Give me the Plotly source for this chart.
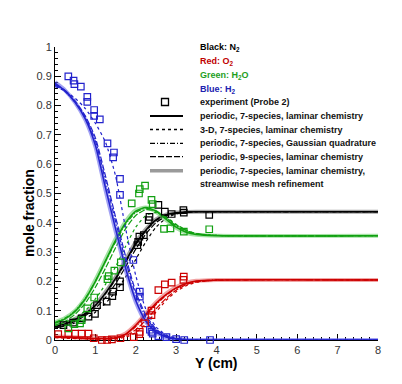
import plotly.graph_objects as go

# ---------------- data ----------------
Y_CM = [0, 0.25, 0.5, 0.75, 1.0, 1.25, 1.5, 1.75, 2.0, 2.25, 2.5, 2.75, 3.0, 3.25, 3.5, 4.0, 8.0]

# H2 (blue)
h2_periodic7 = [0.877, 0.850, 0.810, 0.755, 0.665, 0.520, 0.380, 0.245, 0.135, 0.065, 0.028, 0.010, 0.003, 0.001, 0, 0, 0]
h2_3d        = [0.865, 0.850, 0.825, 0.790, 0.740, 0.675, 0.560, 0.380, 0.220, 0.105, 0.045, 0.018, 0.006, 0.002, 0.001, 0, 0]
h2_gauss     = [0.870, 0.848, 0.812, 0.760, 0.680, 0.545, 0.405, 0.270, 0.155, 0.078, 0.034, 0.013, 0.004, 0.001, 0, 0, 0]
h2_9species  = [0.872, 0.852, 0.815, 0.765, 0.690, 0.560, 0.420, 0.285, 0.165, 0.085, 0.038, 0.015, 0.005, 0.002, 0, 0, 0]
h2_mesh      = [0.880, 0.852, 0.810, 0.752, 0.660, 0.512, 0.372, 0.238, 0.130, 0.062, 0.026, 0.009, 0.003, 0.001, 0, 0, 0]

# H2O (green)
h2o_periodic7 = [0.057, 0.072, 0.098, 0.140, 0.200, 0.270, 0.340, 0.400, 0.440, 0.452, 0.440, 0.412, 0.385, 0.368, 0.360, 0.356, 0.356]
h2o_3d        = [0.050, 0.060, 0.075, 0.100, 0.140, 0.190, 0.250, 0.320, 0.385, 0.425, 0.435, 0.420, 0.395, 0.375, 0.363, 0.357, 0.356]
h2o_gauss     = [0.060, 0.075, 0.100, 0.142, 0.200, 0.268, 0.335, 0.395, 0.435, 0.450, 0.440, 0.415, 0.390, 0.372, 0.362, 0.357, 0.356]
h2o_9species  = [0.050, 0.064, 0.088, 0.125, 0.180, 0.245, 0.315, 0.380, 0.425, 0.445, 0.440, 0.418, 0.393, 0.374, 0.363, 0.357, 0.356]
h2o_mesh      = [0.060, 0.075, 0.100, 0.143, 0.205, 0.275, 0.345, 0.405, 0.443, 0.452, 0.438, 0.410, 0.383, 0.366, 0.359, 0.356, 0.356]

# N2 (black)
n2_periodic7 = [0.045, 0.055, 0.070, 0.090, 0.118, 0.160, 0.210, 0.270, 0.330, 0.375, 0.410, 0.427, 0.434, 0.437, 0.438, 0.438, 0.438]
n2_3d        = [0.040, 0.048, 0.058, 0.073, 0.095, 0.125, 0.165, 0.215, 0.275, 0.335, 0.385, 0.415, 0.430, 0.436, 0.438, 0.438, 0.438]
n2_gauss     = [0.045, 0.055, 0.070, 0.090, 0.118, 0.158, 0.207, 0.265, 0.325, 0.372, 0.408, 0.426, 0.433, 0.437, 0.438, 0.438, 0.438]
n2_9species  = [0.040, 0.050, 0.064, 0.083, 0.108, 0.145, 0.192, 0.250, 0.310, 0.362, 0.400, 0.422, 0.432, 0.436, 0.438, 0.438, 0.438]
n2_mesh      = [0.047, 0.057, 0.072, 0.092, 0.121, 0.163, 0.214, 0.274, 0.334, 0.378, 0.412, 0.428, 0.435, 0.437, 0.438, 0.438, 0.438]

# O2 (red)
o2_periodic7 = [0.012, 0.010, 0.008, 0.006, 0.005, 0.005, 0.008, 0.020, 0.050, 0.088, 0.125, 0.155, 0.178, 0.193, 0.201, 0.205, 0.205]
o2_3d        = [0.008, 0.006, 0.005, 0.004, 0.003, 0.003, 0.004, 0.010, 0.025, 0.055, 0.095, 0.135, 0.165, 0.185, 0.197, 0.204, 0.205]
o2_gauss     = [0.012, 0.010, 0.008, 0.006, 0.005, 0.005, 0.008, 0.019, 0.046, 0.083, 0.120, 0.152, 0.176, 0.192, 0.200, 0.205, 0.205]
o2_9species  = [0.010, 0.008, 0.006, 0.005, 0.004, 0.004, 0.006, 0.014, 0.035, 0.068, 0.106, 0.142, 0.170, 0.189, 0.198, 0.204, 0.205]
o2_mesh      = [0.013, 0.011, 0.009, 0.007, 0.006, 0.006, 0.009, 0.022, 0.052, 0.091, 0.128, 0.158, 0.181, 0.195, 0.202, 0.205, 0.205]

# experiment (Probe 2)
exp_h2_x = [0.33, 0.46, 0.48, 0.64, 0.80, 0.80, 0.97, 0.97, 1.11, 1.30, 1.46, 1.44, 1.61, 1.61, 1.94, 2.10, 2.10, 2.35, 2.39, 2.42, 2.56, 2.76, 3.00, 3.20, 3.84]
exp_h2_y = [0.900, 0.885, 0.873, 0.865, 0.830, 0.813, 0.785, 0.765, 0.753, 0.671, 0.640, 0.623, 0.550, 0.495, 0.273, 0.165, 0.148, 0.035, 0.028, 0.022, 0.013, 0.010, 0.003, 0.000, 0.000]

exp_h2o_x = [0.33, 0.48, 0.62, 0.66, 0.80, 0.97, 1.30, 1.33, 1.47, 1.63, 1.90, 2.08, 2.10, 2.23, 2.39, 2.42, 2.70, 2.86, 3.19, 3.82]
exp_h2o_y = [0.040, 0.054, 0.057, 0.068, 0.108, 0.145, 0.208, 0.218, 0.237, 0.265, 0.466, 0.500, 0.515, 0.527, 0.478, 0.464, 0.379, 0.381, 0.370, 0.378]

exp_n2_x = [0.21, 0.45, 0.66, 0.83, 0.99, 1.04, 1.28, 1.42, 1.44, 1.61, 1.61, 2.04, 2.06, 2.09, 2.20, 2.32, 2.34, 2.56, 2.72, 2.89, 3.18, 3.19, 3.82]
exp_n2_y = [0.051, 0.059, 0.074, 0.080, 0.089, 0.119, 0.131, 0.150, 0.165, 0.180, 0.200, 0.324, 0.335, 0.353, 0.358, 0.409, 0.420, 0.461, 0.438, 0.430, 0.443, 0.435, 0.427]

exp_o2_x = [0.08, 0.33, 0.50, 0.66, 0.83, 0.96, 1.16, 1.29, 1.41, 1.62, 1.95, 2.09, 2.10, 2.23, 2.39, 2.39, 2.56, 2.72, 2.89, 3.18, 3.19]
exp_o2_y = [0.020, 0.022, 0.022, 0.022, 0.022, 0.006, 0.000, 0.000, 0.002, 0.006, 0.010, 0.020, 0.028, 0.057, 0.085, 0.100, 0.170, 0.190, 0.196, 0.205, 0.216]

X_TICKS = [0, 1, 2, 3, 4, 5, 6, 7, 8]
Y_TICKS = [0, 0.1, 0.2, 0.3, 0.4, 0.5, 0.6, 0.7, 0.8, 0.9, 1]
Y_TICK_LABELS = ["0", "0.1", "0.2", "0.3", "0.4", "0.5", "0.6", "0.7", "0.8", "0.9", "1"]

SPECIES_LABELS = [("Black: N<sub>2</sub>", "#000000"), ("Red: O<sub>2</sub>", "#c00000"),
                  ("Green: H<sub>2</sub>O", "#1e9e1e"), ("Blue: H<sub>2</sub>", "#2020b0")]
CASE_LABELS = ["experiment (Probe 2)",
               "periodic, 7-species, laminar chemistry",
               "3-D, 7-species, laminar chemistry",
               "periodic, 7-species, Gaussian quadrature",
               "periodic, 9-species, laminar chemistry",
               "periodic, 7-species, laminar chemistry,",
               "streamwise mesh refinement"]

# ---------------- styles ----------------
species = [
    ("N2", "#000000", "rgba(90,90,90,0.55)", [n2_periodic7, n2_3d, n2_gauss, n2_9species, n2_mesh], exp_n2_x, exp_n2_y),
    ("O2", "#cc0000", "rgba(230,90,90,0.55)", [o2_periodic7, o2_3d, o2_gauss, o2_9species, o2_mesh], exp_o2_x, exp_o2_y),
    ("H2O", "#11a011", "rgba(90,200,90,0.55)", [h2o_periodic7, h2o_3d, h2o_gauss, h2o_9species, h2o_mesh], exp_h2o_x, exp_h2o_y),
    ("H2", "#2222cc", "rgba(100,100,235,0.6)", [h2_periodic7, h2_3d, h2_gauss, h2_9species, h2_mesh], exp_h2_x, exp_h2_y),
]
DASHES = ["solid", "3px,3px", "5px,2px,1px,2px", "6px,2px", "solid"]

fig = go.Figure()
FONT = "Liberation Sans, Arial, sans-serif"

for name, col, light, series, ex, ey in species:
    fig.add_trace(go.Scatter(x=Y_CM, y=series[4], mode="lines",
                             line=dict(color=light, width=4, shape="spline", smoothing=0.6),
                             showlegend=False, hoverinfo="skip"))
    for k in range(4):
        fig.add_trace(go.Scatter(x=Y_CM, y=series[k], mode="lines",
                                 line=dict(color=col, width=1.2 if k else 1.5, dash=DASHES[k],
                                           shape="spline", smoothing=0.6),
                                 showlegend=False, hoverinfo="skip"))

for name, col, light, series, ex, ey in species:
    fig.add_trace(go.Scatter(x=ex, y=ey, mode="markers", cliponaxis=False,
                             marker=dict(symbol="square-open", size=6.5, color=col,
                                         line=dict(width=1.2, color=col)),
                             showlegend=False, hoverinfo="skip"))

# ---------------- layout ----------------
L, R, T, B = 55, 24, 47, 44
W, H = 402, 384
pw, ph = W - L - R, H - T - B


def px(xp):
    return (xp - L) / pw


def py(yp):
    return (H - B - yp) / ph


annotations = []
shapes = []
text_x = px(198)
rows_species = [47, 61, 75, 89]
for (txt, c), yy in zip(SPECIES_LABELS, rows_species):
    annotations.append(dict(x=text_x, y=py(yy), xref="paper", yref="paper", text="<b>%s</b>" % txt,
                            showarrow=False, xanchor="left", yanchor="middle",
                            font=dict(family=FONT, size=9, color=c)))
rows_case = [102, 116, 129.5, 143.3, 156.7, 170.7, 184.3]
for txt, yy in zip(CASE_LABELS, rows_case):
    annotations.append(dict(x=text_x, y=py(yy), xref="paper", yref="paper", text="<b>%s</b>" % txt,
                            showarrow=False, xanchor="left", yanchor="middle",
                            font=dict(family=FONT, size=9, color="#111111")))

# legend symbols
shapes.append(dict(type="rect", xref="paper", yref="paper",
                   x0=px(161.5), x1=px(168.5), y0=py(105.5), y1=py(98.5),
                   line=dict(color="#000000", width=1.3), fillcolor="rgba(0,0,0,0)"))
sample_styles = [("#000000", 2, "solid"), ("#000000", 1.3, "3px,3px"), ("#000000", 1.3, "5px,2px,1px,2px"),
                 ("#000000", 1.3, "6px,2px"), ("#9a9a9a", 3.5, "solid")]
for (c, w, d), yy in zip(sample_styles, rows_case[1:6]):
    shapes.append(dict(type="line", xref="paper", yref="paper", x0=px(150), x1=px(183),
                       y0=py(yy), y1=py(yy), line=dict(color=c, width=w, dash=d)))

# axis titles
annotations.append(dict(x=0.5, y=py(363), xref="paper", yref="paper", text="<b>Y (cm)</b>",
                        showarrow=False, xanchor="center", yanchor="middle",
                        font=dict(family=FONT, size=14, color="#000000")))
annotations.append(dict(x=px(29), y=py(213), xref="paper", yref="paper", text="<b>mole fraction</b>",
                        showarrow=False, xanchor="center", yanchor="middle", textangle=-90,
                        font=dict(family=FONT, size=14, color="#000000")))

axis_common = dict(showgrid=False, zeroline=False, showline=True, linecolor="#000000", linewidth=1,
                   ticks="inside", ticklen=6, tickwidth=1, tickcolor="#000000", layer="below traces",
                   tickfont=dict(family=FONT, size=11, color="#333333"), mirror=False)

fig.update_layout(
    width=W, height=H, margin=dict(l=L, r=R, t=T, b=B, pad=0),
    paper_bgcolor="white", plot_bgcolor="white", showlegend=False,
    xaxis=dict(range=[0, 8], tickvals=X_TICKS, ticktext=[str(v) for v in X_TICKS],
               minor=dict(ticks="inside", ticklen=3, dtick=0.2, tickcolor="#000000"), **axis_common),
    yaxis=dict(range=[0, 1], tickvals=Y_TICKS, ticktext=Y_TICK_LABELS,
               minor=dict(ticks="inside", ticklen=3, dtick=0.02, tickcolor="#000000"), **axis_common),
    annotations=annotations, shapes=shapes,
)

fig.write_html("out.html", config={"displayModeBar": False},
               post_script="document.body.style.margin='0';document.body.style.overflow='hidden';")
